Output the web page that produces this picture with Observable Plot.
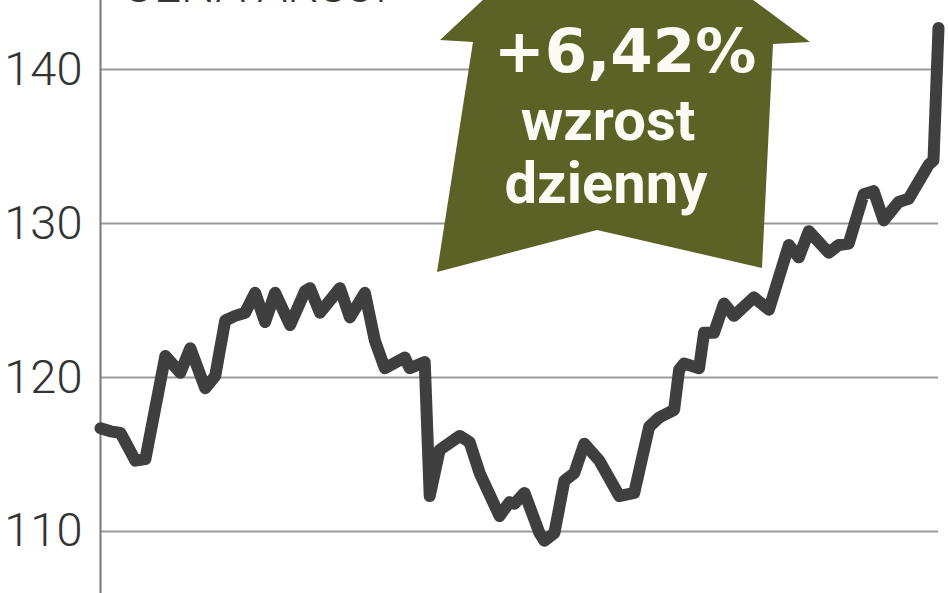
<!DOCTYPE html>
<html>
<head>
<meta charset="utf-8">
<script src="https://cdn.jsdelivr.net/npm/d3@7"></script>
<script src="https://cdn.jsdelivr.net/npm/@observablehq/plot@0.6"></script>
<style>
  html, body { margin: 0; padding: 0; background: #fff; overflow: hidden; }
  #wrap { position: relative; width: 948px; height: 593px; }
  #arrow { position: absolute; left: 0; top: 0; pointer-events: none; }
</style>
</head>
<body>
<div id="wrap"></div>
<script>
// Sesja (dzień notowań) i kurs akcji
const days = [0, 2, 4, 7, 9, 13, 16, 18, 21, 23, 25, 27, 29, 31, 33, 35, 38, 41, 42, 44, 48, 50, 53, 55, 57, 61, 62, 65, 66, 68, 72, 74, 76, 80, 82, 83, 85, 88, 89, 91, 93, 95, 97, 100, 104, 107, 110, 112, 115, 116, 117, 120, 121, 123, 125, 127, 131, 134, 138, 140, 142, 146, 148, 150, 153, 155, 157, 160, 162, 166, 167, 168];
const prices = [116.7, 116.5, 116.4, 114.6, 114.7, 121.4, 120.3, 121.9, 119.3, 120.1, 123.7, 124.0, 124.2, 125.5, 123.6, 125.5, 123.4, 125.6, 125.8, 124.2, 125.8, 123.9, 125.5, 122.4, 120.6, 121.3, 120.6, 121.0, 112.3, 115.3, 116.2, 115.8, 113.8, 111.0, 111.9, 111.8, 112.5, 109.9, 109.4, 109.9, 113.3, 113.8, 115.7, 114.6, 112.3, 112.5, 116.8, 117.4, 117.9, 120.5, 120.9, 120.6, 122.9, 122.9, 124.8, 124.0, 125.2, 124.4, 128.6, 127.8, 129.5, 128.1, 128.6, 128.7, 131.9, 132.1, 130.2, 131.4, 131.6, 133.8, 134.1, 142.7];
const yTicks = [110, 120, 130, 140];
const title = "CENA AKCJI";
const changeLabel = "+6,42%";
const noteLines = ["wzrost", "dzienny"];

const data = days.map((d, i) => ({day: d, price: prices[i]}));

const chart = Plot.plot({
  width: 948,
  height: 593,
  marginLeft: 100,
  marginRight: 10,
  marginTop: 0,
  marginBottom: 0,
  style: {background: "#fff", overflow: "hidden"},
  x: {domain: [0, 168], axis: null},
  y: {domain: [105.97, 144.48], axis: null},
  marks: [
    Plot.gridY(yTicks, {stroke: "#9a9a9a", strokeOpacity: 1, strokeWidth: 2}),
    Plot.axisY(yTicks, {
      tickSize: 0, tickPadding: 18, fontSize: 47, fontWeight: 300,
      fontFamily: "Roboto", fill: "#333", label: null, tickFormat: d => String(d)
    }),
    Plot.frame({anchor: "left", stroke: "#777", strokeWidth: 2}),
    Plot.text([title], {
      frameAnchor: "top-left", textAnchor: "start", lineAnchor: "bottom",
      dx: 22, dy: 1, fontSize: 48, fontWeight: 300, fontFamily: "Roboto",
      fill: "#333", letterSpacing: 3
    }),
    Plot.line(data, {
      x: "day", y: "price", stroke: "#3f3f3f", strokeWidth: 12,
      strokeLinejoin: "round", strokeLinecap: "round"
    })
  ]
});
const wrap = document.getElementById("wrap");
wrap.appendChild(chart);

// Strzałka z adnotacją (dekoracja nakładana na wykres)
const ns = "http://www.w3.org/2000/svg";
const ov = document.createElementNS(ns, "svg");
ov.setAttribute("id", "arrow");
ov.setAttribute("width", 948);
ov.setAttribute("height", 593);
const poly = document.createElementNS(ns, "polygon");
poly.setAttribute("points", "547,-60 672,-60 810,42 773,44 762,268 597,230 437,272 473,42 440,40");
poly.setAttribute("fill", "#5c6126");
ov.appendChild(poly);
function addText(str, x, y, size, family, weight) {
  const t = document.createElementNS(ns, "text");
  t.setAttribute("x", x);
  t.setAttribute("y", y);
  t.setAttribute("text-anchor", "middle");
  t.setAttribute("fill", "#fbfbf3");
  t.setAttribute("font-size", size);
  t.setAttribute("font-family", family);
  t.setAttribute("font-weight", weight);
  t.textContent = str;
  ov.appendChild(t);
}
addText(changeLabel, 625, 72, 61, "DejaVu Sans", 700);
addText(noteLines[0], 608, 140, 58, "Roboto", 700);
addText(noteLines[1], 606, 203, 58, "Roboto", 700);
wrap.appendChild(ov);
</script>
</body>
</html>
